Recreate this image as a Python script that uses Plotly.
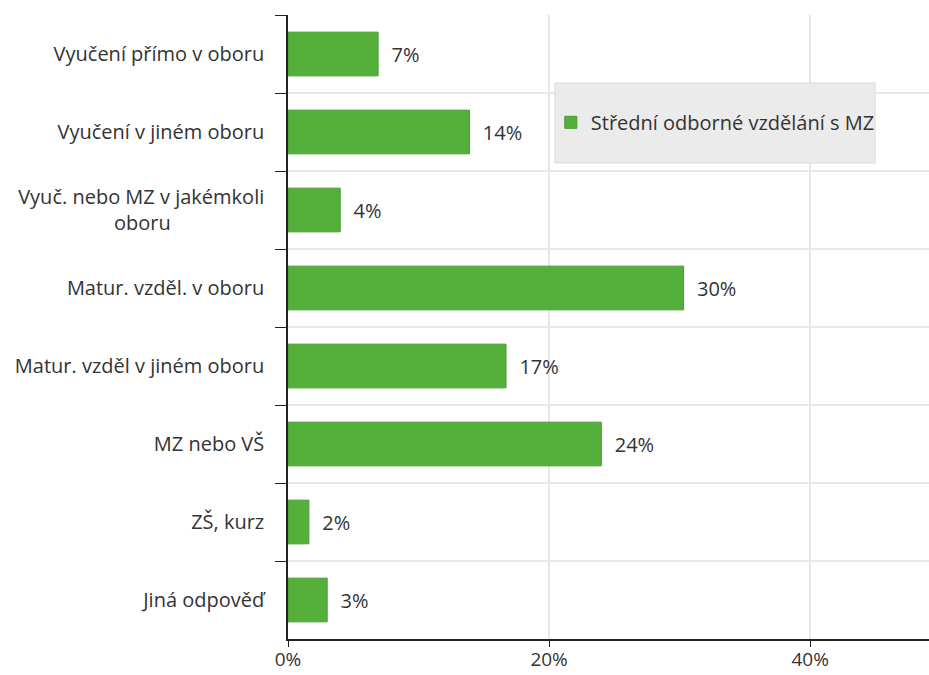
import plotly.graph_objects as go

# data
categories = [
    "Vyučení přímo v oboru",
    "Vyučení v jiném oboru",
    "Vyuč. nebo MZ v jakémkoli<br>oboru" + "\u00a0" * 18,
    "Matur. vzděl. v oboru",
    "Matur. vzděl v jiném oboru",
    "MZ nebo VŠ",
    "ZŠ, kurz",
    "Jiná odpověď",
]
values = [6.9, 13.9, 4.0, 30.3, 16.7, 24.0, 1.6, 3.0]
series_name = "Střední odborné vzdělání s MZ"
x_ticks = [0, 20, 40]
x_tick_labels = ["0%", "20%", "40%"]

FONT = "Open Sans"
FS = 20

bar = go.Bar(
    name=series_name,
    orientation="h",
    x=values,
    y=categories,
    width=0.56,
    marker=dict(color="#54b03a", line=dict(color="#489c30", width=1)),
    text=["\u00a0\u00a0" + f"{round(v)}%" for v in values],
    textposition="outside",
    textfont=dict(family=FONT, size=FS, color="#333333"),
    cliponaxis=False,
)

fig = go.Figure(data=[bar])

fig.update_layout(
    width=929,
    height=675,
    margin=dict(l=288, r=0, t=15, b=36, autoexpand=False),
    plot_bgcolor="white",
    paper_bgcolor="white",
    font=dict(family=FONT, size=FS, color="#333333"),
    showlegend=True,
    legend=dict(
        x=0.41, y=0.828, xanchor="left", yanchor="middle",
        bgcolor="rgba(0,0,0,0)",
        font=dict(family=FONT, size=FS, color="#333333"),
    ),
    xaxis=dict(
        range=[0, 49.1],
        tickvals=x_ticks,
        ticktext=x_tick_labels,
        automargin=False,
        showgrid=True,
        gridcolor="#e8e8e8",
        gridwidth=2,
        zeroline=False,
        showline=True,
        linecolor="#222222",
        linewidth=1.5,
        ticks="outside",
        ticklen=6,
        tickcolor="#222222",
        ticklabelstandoff=-4,
        tickfont=dict(size=19, color="#333333"),
    ),
    yaxis=dict(
        autorange="reversed",
        tickson="boundaries",
        automargin=False,
        showgrid=True,
        gridcolor="#e8e8e8",
        gridwidth=2,
        showline=True,
        linecolor="#222222",
        linewidth=1.5,
        ticks="outside",
        ticklen=11,
        tickcolor="#222222",
        ticklabelstandoff=18,
        tickfont=dict(size=FS, color="#333333"),
    ),
)

# legend box background
fig.add_shape(
    type="rect", xref="paper", yref="paper",
    x0=(555 - 288) / 641, x1=(875 - 288) / 641,
    y0=(639 - 163) / 624, y1=(639 - 83) / 624,
    fillcolor="#ebebeb", line=dict(color="#d9d9d9", width=1),
    layer="above",
)

# drop the default page margin so the 929x675 figure fills the window
fig.write_html(
    "out.html",
    config={"displayModeBar": False},
    post_script="document.body.style.margin='0';",
)
